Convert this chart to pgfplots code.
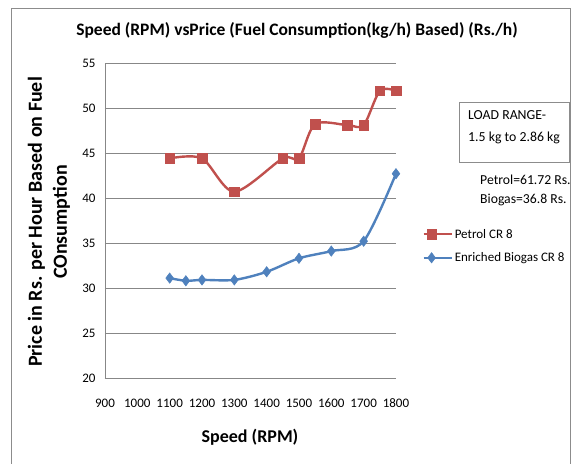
\documentclass[border=0pt]{standalone}
\usepackage{fontspec}
\setmainfont{Carlito}
\usepackage{pgfplots}
\pgfplotsset{compat=1.18}
\definecolor{petrolred}{HTML}{C0504D}
\definecolor{biogasblue}{HTML}{4F81BD}
\definecolor{gridgray}{HTML}{878787}
\definecolor{framegray}{HTML}{8C8C8C}

\begin{document}
\begin{tikzpicture}[x=1pt,y=1pt]
\useasboundingbox (0,0) rectangle (571,464);
% chart area frame (top, left, right only)
\draw[framegray, line width=0.8pt] (11,0) -- (11,456) -- (570,456) -- (570,0);

\begin{axis}[
    at={(105pt,86pt)}, anchor=south west,
    scale only axis,
    width=291pt, height=315pt,
    xmin=900, xmax=1800,
    ymin=20, ymax=55,
    xtick={900,1000,...,1800},
    ytick={20,25,...,55},
    major tick length=0pt,
    ymajorgrids,
    grid style={gridgray, line width=0.8pt},
    axis x line*=bottom, axis y line*=left,
    axis line style={gridgray, line width=0.8pt, -},
    /pgf/number format/assume math mode=true,
    /pgf/number format/1000 sep={},
    tick label style={font=\fontsize{13}{15}\selectfont},
    xticklabel style={anchor=center, yshift=-25pt},
    yticklabel style={anchor=east, xshift=-6pt},
    legend style={at={(1.09,0.48)}, anchor=north west, draw=none, fill=none,
        font=\fontsize{13}{15}\selectfont, row sep=9pt, inner sep=0pt},
    legend cell align=left,
    legend image code/.code={
        \draw[#1, mark=none] (0pt,0pt) -- (28pt,0pt);
        \draw[#1, only marks] plot coordinates {(8pt,0pt)};
    },
    clip=false,
]
\addplot[petrolred, line width=2.4pt, smooth, tension=0.5,
    mark=square*, mark size=4.8pt, mark options={solid, line width=0.5pt}]
    coordinates {
    (1100,44.4) (1200,44.4) (1300,40.7) (1450,44.4) (1500,44.4)
    (1550,48.2) (1650,48.1) (1700,48.1) (1750,51.9) (1800,51.9)
};
\addlegendentry{Petrol CR 8}
\addplot[biogasblue, line width=2.4pt, smooth, tension=0.5,
    mark=diamond*, mark size=5.2pt, mark options={solid, line width=0.5pt}]
    coordinates {
    (1100,31.1) (1150,30.8) (1200,30.9) (1300,30.9) (1400,31.8)
    (1500,33.3) (1600,34.1) (1700,35.2) (1800,42.7)
};
\addlegendentry{Enriched Biogas CR 8}
\end{axis}

% title
\node[font=\fontsize{17.5}{20}\bfseries\selectfont] at (297,434)
    {Speed (RPM) vsPrice (Fuel Consumption(kg/h) Based) (Rs./h)};
% axis titles
\node[font=\fontsize{20}{25}\bfseries\selectfont, rotate=90, align=center] at (49,242)
    {Price in Rs. per Hour Based on Fuel\\COnsumption};
\node[font=\fontsize{18}{21}\bfseries\selectfont] at (250,27) {Speed (RPM)};
% text boxes
\draw[framegray, line width=0.8pt] (459,302) rectangle (569,362);
\node[anchor=west, align=left, font=\fontsize{13.8}{22}\selectfont, inner sep=0pt] at (468,337)
    {LOAD RANGE-\\1.5 kg to 2.86 kg};
\node[anchor=west, align=left, font=\fontsize{13.7}{19}\selectfont, inner sep=0pt] at (480,274)
    {Petrol=61.72 Rs.\\Biogas=36.8 Rs.};
\end{tikzpicture}
\end{document}
